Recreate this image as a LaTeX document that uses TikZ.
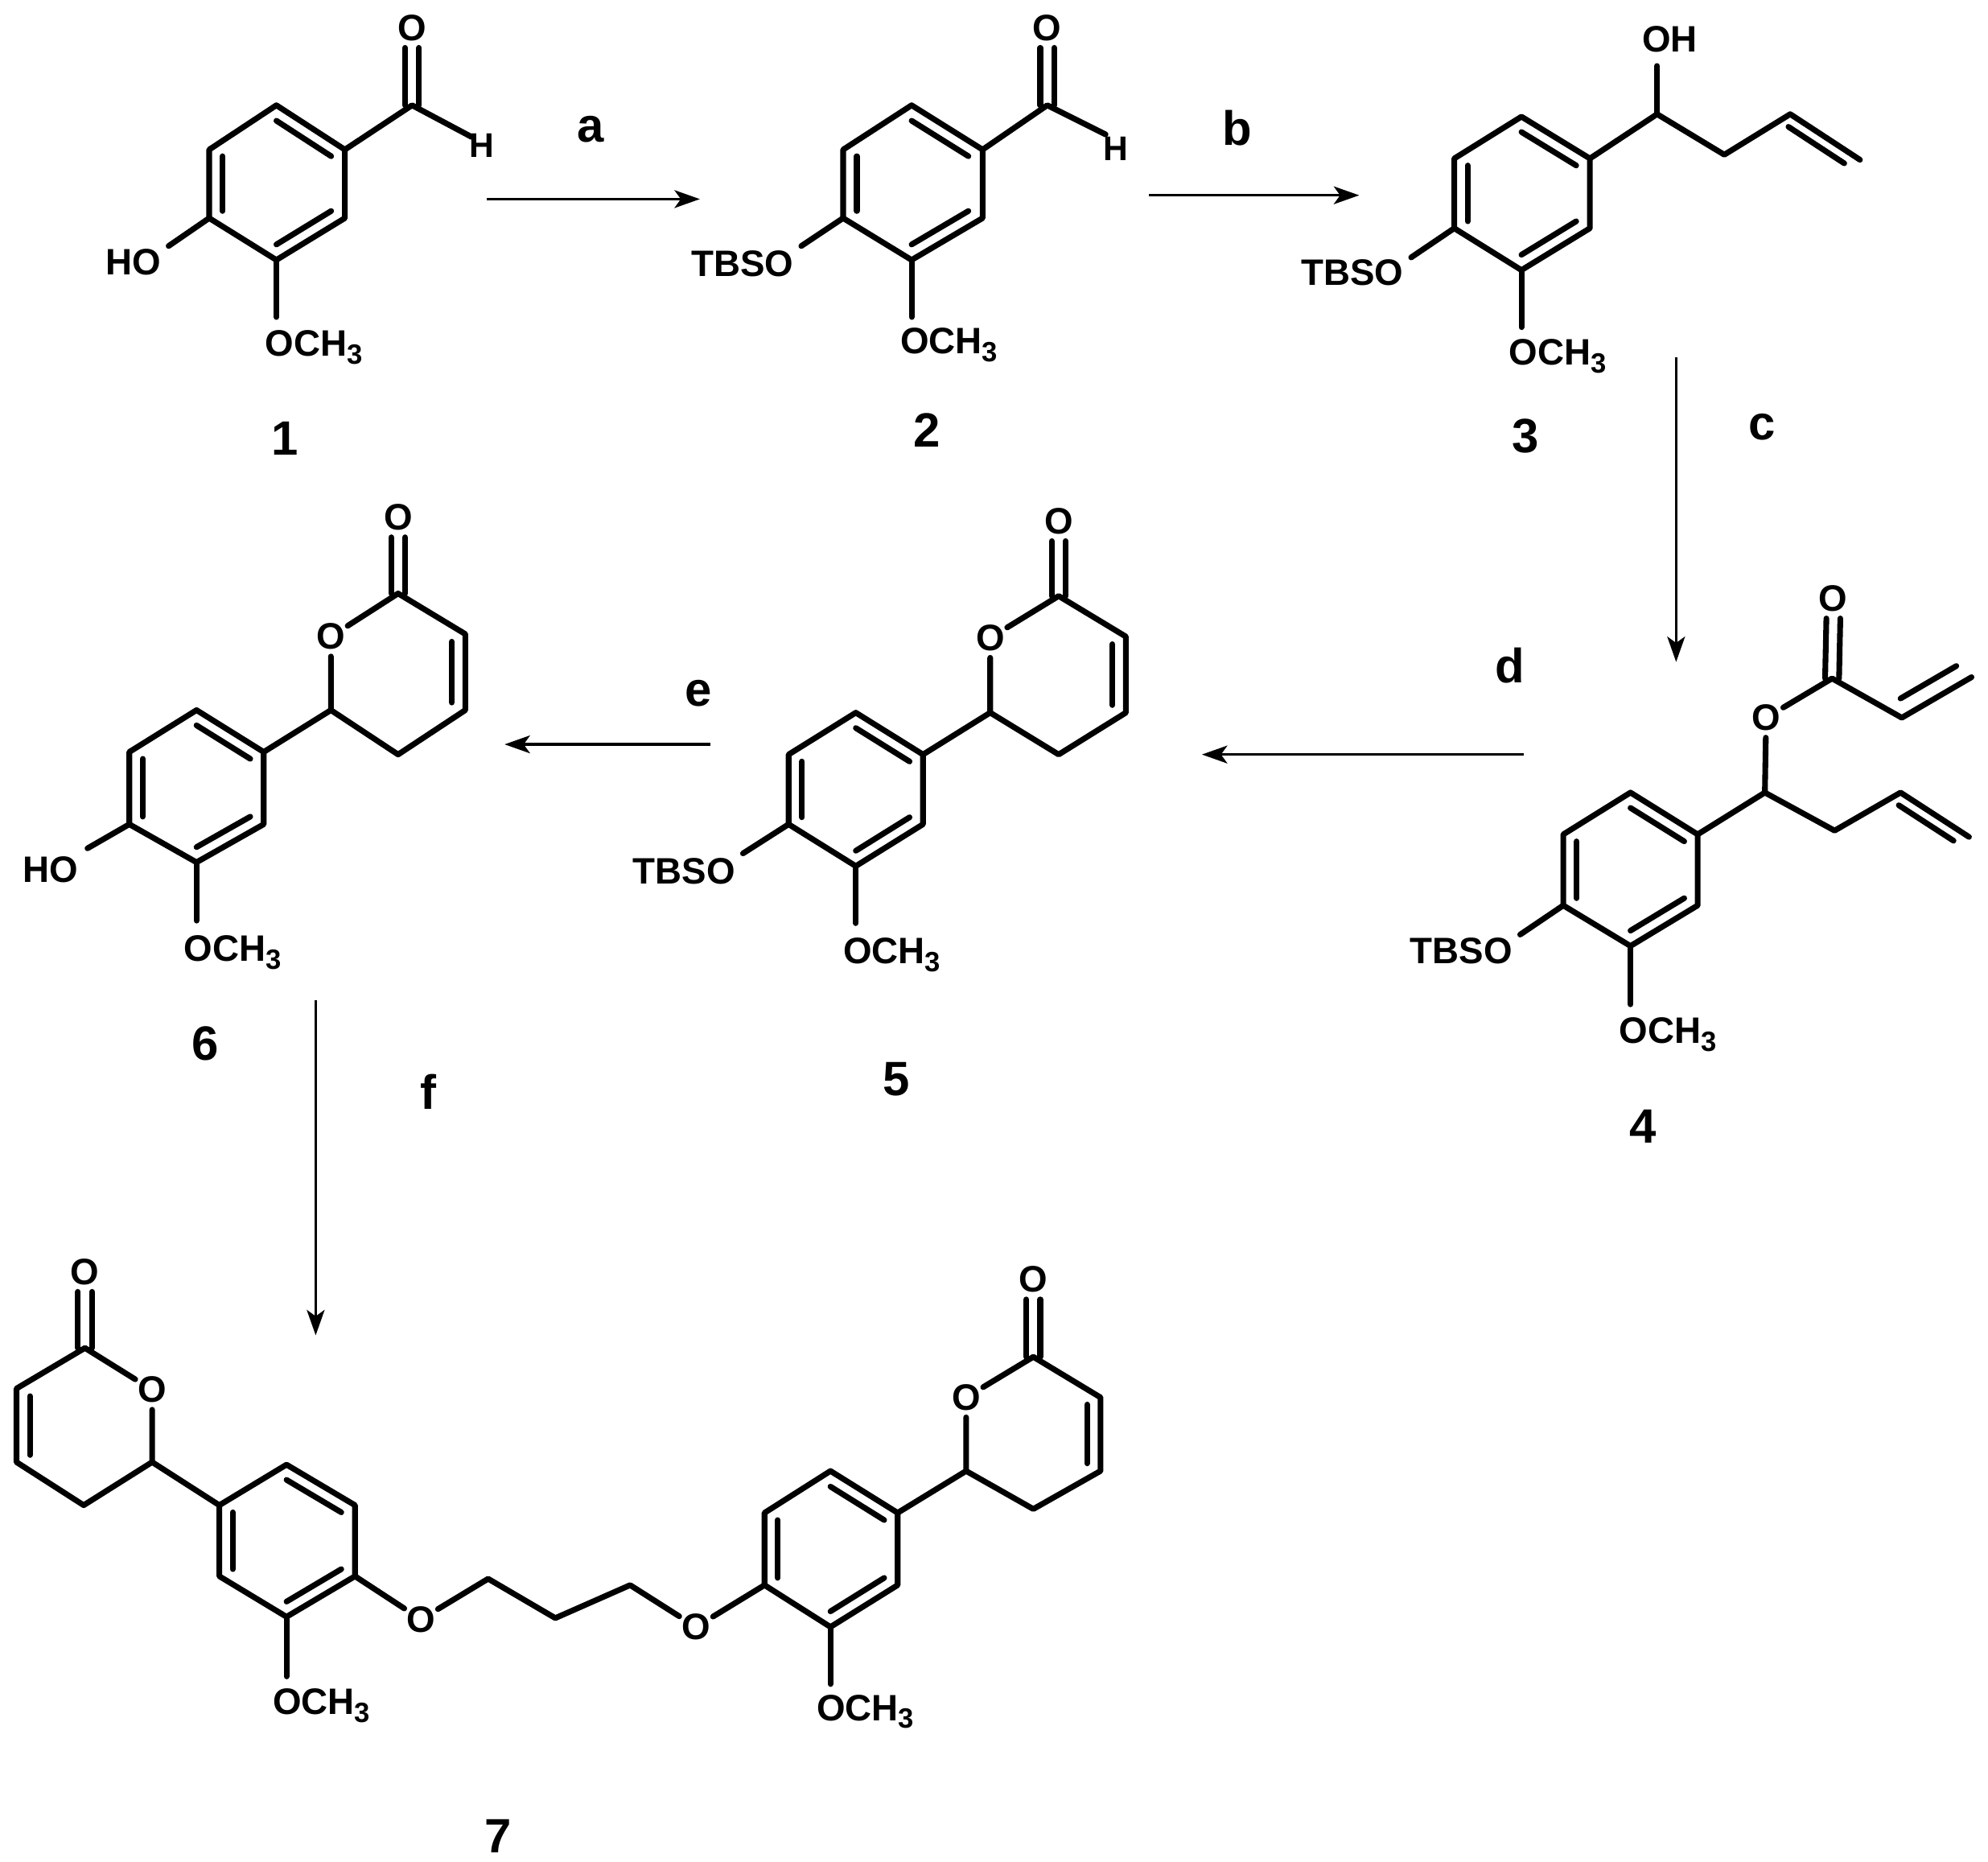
\documentclass[tikz,border=0pt]{standalone}
\usepackage{fontspec}
\setmainfont{Liberation Sans}
\usetikzlibrary{calc,arrows.meta}
\newcommand{\pts}[1]{\foreach \n/\x/\y in {#1}{\coordinate (\n) at (\x,\y);}}
\newcommand{\dbl}[3]{\draw[bond] ($(#1)!0.2!(#3)$) -- ($(#2)!0.2!(#3)$);}
\newcommand{\dco}[2]{\draw[bond] ([xshift=-5.5pt]#1) -- ([xshift=-5.5pt]#2.south);\draw[bond] ([xshift=5.5pt]#1) -- ([xshift=5.5pt]#2.south);}
\newcommand{\och}{OCH\raisebox{-6pt}{\fontsize{22}{22}\selectfont 3}}
\tikzset{
  bond/.style={line width=4.5pt,line cap=round,line join=round,black},
  rxn/.style={line width=2.2pt,black,-{Stealth[length=20pt,width=14pt,inset=5pt]}},
  oatom/.style={font=\fontsize{29}{30}\selectfont\bfseries,circle,inner sep=0pt,minimum size=31pt},
  txt/.style={font=\fontsize{29}{30}\selectfont\bfseries,inner sep=0pt},
  hatom/.style={font=\fontsize{27}{30}\selectfont\bfseries,inner sep=0pt},
  cmpd/.style={font=\fontsize{38}{40}\selectfont\bfseries,inner sep=0pt},
  rlab/.style={font=\fontsize{38}{40}\selectfont\bfseries,inner sep=0pt}
}
\begin{document}
\begin{tikzpicture}[x=1pt,y=-1pt]
\fill[white] (0,0) rectangle (1568,1468);
\useasboundingbox (0,0) rectangle (1568,1468);
% ---- 1
\pts{a1/218/83,b1/272/118,c1/272/172,d1/218/205,e1/165/172,f1/165/118,g1/325/83,oe1/218/250,ho1/133/194,he1/372/108}
\coordinate (z1) at (barycentric cs:a1=1,d1=1);
\node[oatom] (o1) at (325,22) {O};
\node[hatom] (h1) at (380,115) {H};
\node[txt,anchor=base east] (hol1) at (127,217) {HO};
\node[txt,anchor=base west] (ol1) at (209,281) {\och};
\node[cmpd] (cp1) at (225,346) {1};
\draw[bond] (a1)--(b1)--(c1)--(d1)--(e1)--(f1)--cycle;
\dbl{a1}{b1}{z1}\dbl{c1}{d1}{z1}\dbl{e1}{f1}{z1}
\draw[bond] (b1)--(g1)--(he1); \dco{g1}{o1}
\draw[bond] (e1)--(ho1); \draw[bond] (d1)--(oe1);
% ---- 2
\pts{a2/719/83,b2/775/118,c2/775/172,d2/719/205,e2/665/172,f2/665/118,g2/826/83,oe2/719/250,ho2/632/194,he2/872/106}
\coordinate (z2) at (barycentric cs:a2=1,d2=1);
\node[oatom] (o2) at (826,22) {O};
\node[hatom] (h2) at (880,117) {H};
\node[txt,anchor=base east] (tb2) at (626,218) {TBSO};
\node[txt,anchor=base west] (ol2) at (710,279) {\och};
\node[cmpd] (cp2) at (731,339) {2};
\draw[bond] (a2)--(b2)--(c2)--(d2)--(e2)--(f2)--cycle;
\dbl{a2}{b2}{z2}\dbl{c2}{d2}{z2}\dbl{e2}{f2}{z2}
\draw[bond] (b2)--(g2)--(he2); \dco{g2}{o2}
\draw[bond] (e2)--(ho2); \draw[bond] (d2)--(oe2);
% ---- 3
\pts{a3/1200/92,b3/1254/125,c3/1254/180,d3/1200/213,e3/1147/180,f3/1147/125,g3/1307/90,i3/1360/122,j3/1412/90,k3/1467/126,v3/1405/140,oe3/1200/258,ho3/1113/203,oh3/1307/52}
\coordinate (z3) at (barycentric cs:a3=1,d3=1);
\node[txt,anchor=base] (ohl3) at (1317,41) {OH};
\node[txt,anchor=base east] (tb3) at (1107,225) {TBSO};
\node[txt,anchor=base west] (ol3) at (1190,288) {\och};
\node[cmpd] (cp3) at (1203,344) {3};
\draw[bond] (a3)--(b3)--(c3)--(d3)--(e3)--(f3)--cycle;
\dbl{a3}{b3}{z3}\dbl{c3}{d3}{z3}\dbl{e3}{f3}{z3}
\draw[bond] (b3)--(g3)--(i3)--(j3)--(k3); \draw[bond] (g3)--(oh3);
\dbl{j3}{k3}{v3}
\draw[bond] (e3)--(ho3); \draw[bond] (d3)--(oe3);
% ---- 4
\pts{a4/1286/625,b4/1339/658,c4/1339/714,d4/1286/746,e4/1233/714,f4/1233/658,g4/1392/625,i4/1447/655,j4/1499/625,k4/1553/660,v4/1492/675,oe4/1286/792,ho4/1199/737,p4/1445/535,q4/1500/566,r4/1555/534,w4/1495/490}
\coordinate (z4) at (barycentric cs:a4=1,d4=1);
\node[oatom] (oa4) at (1393,566) {O};
\node[oatom] (ob4) at (1446,472) {O};
\node[txt,anchor=base east] (tb4) at (1193,760) {TBSO};
\node[txt,anchor=base west] (ol4) at (1277,823) {\och};
\node[cmpd] (cp4) at (1296,888) {4};
\draw[bond] (a4)--(b4)--(c4)--(d4)--(e4)--(f4)--cycle;
\dbl{a4}{b4}{z4}\dbl{c4}{d4}{z4}\dbl{e4}{f4}{z4}
\draw[bond] (b4)--(g4)--(i4)--(j4)--(k4); \dbl{j4}{k4}{v4}
\draw[bond] (g4)--(oa4); \draw[bond] (oa4)--(p4)--(q4)--(r4); \dbl{q4}{r4}{w4}
\dco{p4}{ob4}
\draw[bond] (e4)--(ho4); \draw[bond] (d4)--(oe4);
% ---- 5
\pts{a5/675/562,b5/728/595,c5/728/650,d5/675/683,e5/622/650,f5/622/595,g5/781/562,i5/835/595,j5/888/562,k5/888/502,l5/835/470,oe5/675/728,ho5/586/673}
\coordinate (z5) at (barycentric cs:a5=1,d5=1);
\coordinate (y5) at (835,532);
\node[oatom] (oa5) at (781,503) {O};
\node[oatom] (ob5) at (835,411) {O};
\node[txt,anchor=base east] (tb5) at (580,697) {TBSO};
\node[txt,anchor=base west] (ol5) at (665,760) {\och};
\node[cmpd] (cp5) at (707,851) {5};
\draw[bond] (a5)--(b5)--(c5)--(d5)--(e5)--(f5)--cycle;
\dbl{a5}{b5}{z5}\dbl{c5}{d5}{z5}\dbl{e5}{f5}{z5}
\draw[bond] (b5)--(g5)--(i5)--(j5)--(k5)--(l5)--(oa5)--(g5); \dbl{j5}{k5}{y5}
\dco{l5}{ob5}
\draw[bond] (e5)--(ho5); \draw[bond] (d5)--(oe5);
% ---- 6
\pts{a6/155/560,b6/208/593,c6/208/650,d6/155/680,e6/102/650,f6/102/593,g6/261/560,i6/314/595,j6/367/560,k6/367/500,l6/314/468,oe6/155/726,ho6/69/669}
\coordinate (z6) at (barycentric cs:a6=1,d6=1);
\coordinate (y6) at (314,530);
\node[oatom] (oa6) at (261,502) {O};
\node[oatom] (ob6) at (314,408) {O};
\node[txt,anchor=base east] (hol6) at (62,696) {HO};
\node[txt,anchor=base west] (ol6) at (145,758) {\och};
\node[cmpd] (cp6) at (162,823) {6};
\draw[bond] (a6)--(b6)--(c6)--(d6)--(e6)--(f6)--cycle;
\dbl{a6}{b6}{z6}\dbl{c6}{d6}{z6}\dbl{e6}{f6}{z6}
\draw[bond] (b6)--(g6)--(i6)--(j6)--(k6)--(l6)--(oa6)--(g6); \dbl{j6}{k6}{y6}
\dco{l6}{ob6}
\draw[bond] (e6)--(ho6); \draw[bond] (d6)--(oe6);
% ---- 7
\pts{a7/226/1155,b7/280/1187,c7/280/1243,d7/226/1275,e7/173/1243,f7/173/1187,g7/120/1153,i7/66/1187,j7/13/1153,k7/13/1095,l7/67/1063,oe7/226/1322,m7/385/1245,n7/438/1276,p7/497/1250}
\coordinate (z7) at (barycentric cs:a7=1,d7=1);
\coordinate (y7) at (66,1125);
\node[oatom] (oa7) at (120,1096) {O};
\node[oatom] (ob7) at (67,1003) {O};
\node[oatom] (oc7) at (332,1277) {O};
\node[oatom] (od7) at (549,1283) {O};
\node[txt,anchor=base west] (ol7) at (215,1352) {\och};
\node[cmpd] (cp7) at (393,1448) {7};
\draw[bond] (a7)--(b7)--(c7)--(d7)--(e7)--(f7)--cycle;
\dbl{a7}{b7}{z7}\dbl{c7}{d7}{z7}\dbl{e7}{f7}{z7}
\draw[bond] (f7)--(g7)--(i7)--(j7)--(k7)--(l7)--(oa7)--(g7); \dbl{j7}{k7}{y7}
\dco{l7}{ob7}
\draw[bond] (d7)--(oe7);
\draw[bond] (c7)--(oc7)--(m7)--(n7)--(p7)--(od7);
\pts{a8/655/1160,b8/708/1193,c8/708/1250,d8/655/1283,e8/603/1250,f8/603/1193,g8/762/1160,i8/815/1190,j8/868/1160,k8/868/1102,l8/815/1070,oe8/655/1328}
\coordinate (z8) at (barycentric cs:a8=1,d8=1);
\coordinate (y8) at (815,1130);
\node[oatom] (oa8) at (762,1102) {O};
\node[oatom] (ob8) at (815,1009) {O};
\node[txt,anchor=base west] (ol8) at (644,1357) {\och};
\draw[bond] (a8)--(b8)--(c8)--(d8)--(e8)--(f8)--cycle;
\dbl{a8}{b8}{z8}\dbl{c8}{d8}{z8}\dbl{e8}{f8}{z8}
\draw[bond] (b8)--(g8)--(i8)--(j8)--(k8)--(l8)--(oa8)--(g8); \dbl{j8}{k8}{y8}
\dco{l8}{ob8}
\draw[bond] (d8)--(oe8); \draw[bond] (od7)--(e8);
% ---- arrows
\pts{sa/384/157,ta/552/157,sb/906/154,tb/1072/154,sc/1322/282,tc/1322/522,sd/1202/595,td/948/595,se/560/587,te/398/587,sf/249/789,tf/249/1053}
\draw[rxn] (sa)--(ta); \draw[rxn] (sb)--(tb); \draw[rxn] (sc)--(tc);
\draw[rxn] (sd)--(td); \draw[rxn] (se)--(te); \draw[rxn] (sf)--(tf);
\node[rlab] (la) at (466,102) {a};
\node[rlab] (lb) at (976,101) {b};
\node[rlab] (lc) at (1390,337) {c};
\node[rlab] (ld) at (1191,525) {d};
\node[rlab] (le) at (551,547) {e};
\node[rlab] (lf) at (338,861) {f};
\end{tikzpicture}
\end{document}
